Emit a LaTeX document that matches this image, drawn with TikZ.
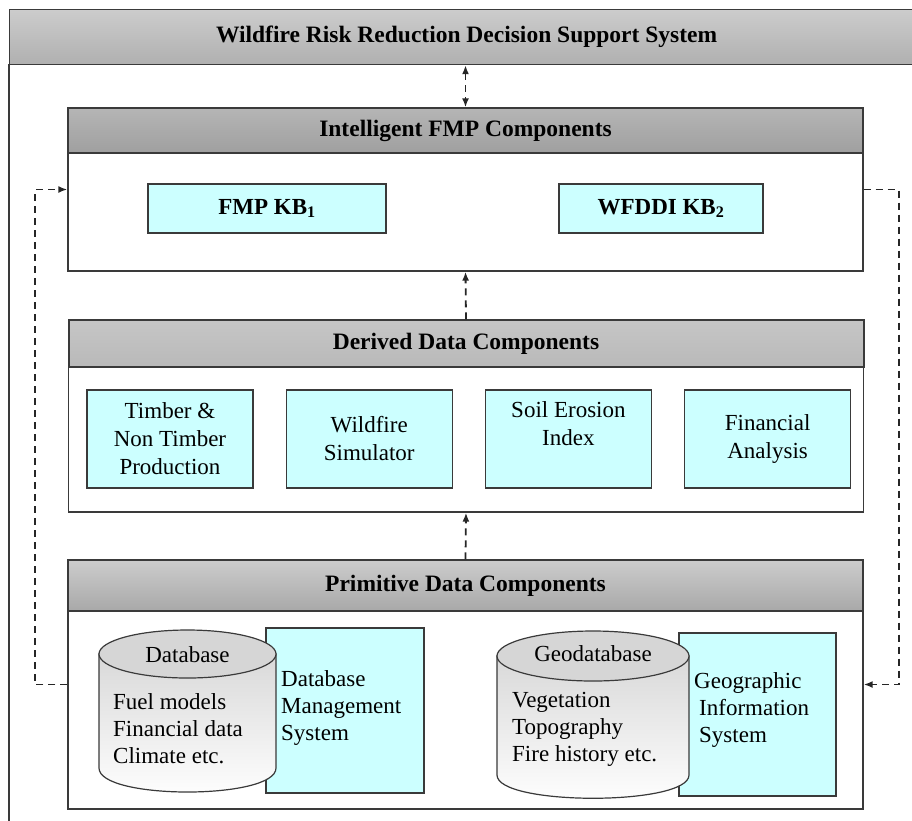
\documentclass[tikz,border=0pt]{standalone}
\usepackage{fontspec}
\setmainfont{Liberation Serif}
\usetikzlibrary{arrows.meta,positioning,calc}
\definecolor{boxcyan}{HTML}{CCFFFF}
\definecolor{capgray}{HTML}{D6D6D6}
\definecolor{edge}{HTML}{3A3A3A}
\tikzset{
  panel/.style={draw=edge,line width=1.3pt,fill=white,minimum width=795pt,inner sep=0pt},
  head/.style={draw=edge,line width=1.3pt,minimum width=795pt,inner sep=0pt,font=\fontsize{23.5}{28}\selectfont\bfseries},
  cbox/.style={draw=edge,line width=1.2pt,fill=boxcyan,inner sep=0pt,align=center,font=\fontsize{23}{28}\selectfont},
  txt/.style={inner sep=0pt,align=left,font=\fontsize{23}{27}\selectfont},
  link/.style={dash pattern=on 7pt off 5pt,line width=1.8pt,black!85},
}

\begin{document}
\begin{tikzpicture}[x=1pt,y=-1pt,>={Latex[length=9pt,width=7pt]},node distance=32pt]
  \useasboundingbox (0,0) rectangle (912,820);
  % outer frame and title bar
  \draw[edge,line width=1.2pt] (9,64) -- (9,830);
  \node[draw=edge,line width=1.2pt,top color=gray!40,bottom color=gray!62,minimum width=914pt,minimum height=55pt,anchor=north west,font=\fontsize{23.5}{28}\selectfont\bfseries] (dss) at (9,9) {Wildfire Risk Reduction Decision Support System};

  % intelligent FMP components
  \node[panel,minimum height=163pt] (intel) at (465.5,189.5) {};
  \node[head,minimum height=45pt,top color=gray!58,bottom color=gray!75,anchor=north] (intelhead) at (intel.north) {Intelligent FMP Components};
  \node[cbox,minimum width=238pt,minimum height=49pt,font=\fontsize{23}{28}\selectfont\bfseries] (kb1) at (267,208.5) {FMP KB\textsubscript{1}};
  \node[cbox,minimum width=204pt,minimum height=49pt,font=\fontsize{23}{28}\selectfont\bfseries] (kb2) at (661,208.5) {WFDDI KB\textsubscript{2}};

  % derived data components
  \node[panel,minimum height=192pt] (derived) at (466,416) {};
  \node[head,minimum height=47pt,top color=gray!45,bottom color=gray!55,anchor=north,line width=2pt] (derivedhead) at (derived.north) {Derived Data Components};
  \node[cbox,minimum width=166pt,minimum height=98pt] (timber) at (170,439) {Timber \&\\Non Timber\\Production};
  \node[cbox,minimum width=166pt,minimum height=98pt,right=of timber] (sim) {Wildfire\\Simulator};
  \node[cbox,minimum width=166pt,minimum height=98pt,right=of sim,text depth=30pt] (soil) {Soil Erosion\\Index};
  \node[cbox,minimum width=166pt,minimum height=98pt,right=of soil] (fin) {Financial\\Analysis};

  % primitive data components
  \node[panel,minimum height=249pt] (prim) at (465.5,684.5) {};
  \node[head,minimum height=51pt,top color=gray!40,bottom color=gray!68,anchor=north] (primhead) at (prim.north) {Primitive Data Components};
  \node[cbox,minimum width=158pt,minimum height=165pt] (dbms) at (345,710.5) {};
  \node[txt,anchor=west] (dbmstext) at (281,708) {Database\\Management\\System};
  \draw[edge,line width=1.2pt,top color=gray!30,bottom color=white] (99,654) -- (99,768) .. controls (99,800) and (276,800) .. (276,768) -- (276,654) -- cycle;
  \draw[edge,line width=1.2pt,fill=capgray] (187.5,654) ellipse [x radius=88.5,y radius=24];
  \node[txt] (dbcap) at (187.5,655) {Database};
  \node[txt,anchor=west] (dbtext) at (113,729) {Fuel models\\Financial data\\Climate etc.};

  \node[cbox,minimum width=157pt,minimum height=163pt] (gis) at (757.5,714.5) {};
  \node[txt,anchor=west] (gistext) at (694,710) {Geographic\\\hspace*{5pt}Information\\\hspace*{5pt}System};
  \draw[edge,line width=1.2pt,top color=gray!30,bottom color=white] (497,656) -- (497,775) .. controls (497,806) and (689,806) .. (689,775) -- (689,656) -- cycle;
  \draw[edge,line width=1.2pt,fill=capgray] (593,656) ellipse [x radius=96,y radius=25];
  \node[txt] (geocap) at (593,654) {Geodatabase};
  \node[txt,anchor=west] (geotext) at (512,729) {Vegetation\\Topography\\Fire history etc.};

  % links between layers
  \draw[link,<->] (intelhead.north |- dss.south) -- (intelhead.north);
  \draw[link,->] (derivedhead.north) -- (intel.south);
  \draw[link,->] (primhead.north) -- (derived.south);
  \draw[link,->] (prim.west) -- ++(-32,0) |- (intel.west);
  \draw[link,->] (intel.east) -- ++(35,0) |- (prim.east);
\end{tikzpicture}
\end{document}
